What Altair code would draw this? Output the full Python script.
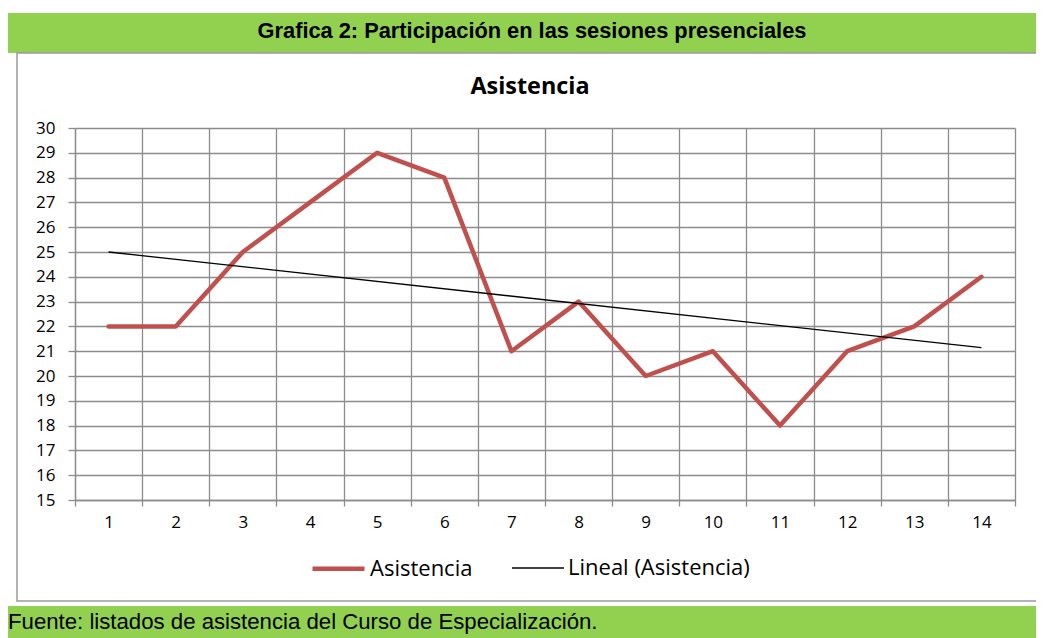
import altair as alt
import pandas as pd

# ---- data ----
sesiones = list(range(1, 15))
asistencia = [22, 22, 25, 27, 29, 28, 21, 23, 20, 21, 18, 21, 22, 24]
serie_nombres = ["Asistencia", "Lineal (Asistencia)"]
serie_colores = ["#C0504D", "#000000"]
serie_grosor = [4.5, 1.3]
y_ticks = list(range(15, 31))

titulo_cabecera = "Grafica 2: Participación en las sesiones presenciales"
titulo_grafico = "Asistencia"
fuente = "Fuente: listados de asistencia del Curso de Especialización."

df = pd.DataFrame({"sesion": sesiones, "asistencia": asistencia})

W, H = 940, 372
GRID = "#8C8C8C"
GREEN = "#92D050"
FONT = "Open Sans"
NARROW = "Liberation Sans, sans-serif"

x_enc = alt.X(
    "sesion:O",
    scale=alt.Scale(domain=sesiones, paddingInner=0, paddingOuter=0),
    axis=alt.Axis(
        title=None, tickBand="extent", labelAngle=0, grid=True,
        gridColor=GRID, gridWidth=1.3, domainColor=GRID, domainWidth=1.3,
        tickColor=GRID, tickWidth=1.3, tickSize=6, labelPadding=8,
        labelFont=FONT, labelFontSize=17, labelColor="#000000",
    ),
)
y_enc = alt.Y(
    "asistencia:Q",
    scale=alt.Scale(domain=[15, 30], nice=False, zero=False),
    axis=alt.Axis(
        title=None, values=y_ticks, grid=True,
        gridColor=GRID, gridWidth=1.3, domainColor=GRID, domainWidth=1.3,
        tickColor=GRID, tickWidth=1.3, tickSize=7, labelPadding=13,
        labelFont=FONT, labelFontSize=17, labelColor="#000000",
    ),
)
legend = alt.Legend(
    title=None, orient="none", direction="horizontal",
    legendX=235, legendY=412, symbolType="stroke", symbolSize=2704,
    labelFont=FONT, labelFontSize=22, labelColor="#000000", labelLimit=400,
    columnPadding=36, labelOffset=3,
)
color_enc = alt.Color(
    "serie:N", scale=alt.Scale(domain=serie_nombres, range=serie_colores), legend=legend
)
sw_enc = alt.StrokeWidth(
    "serie:N",
    scale=alt.Scale(type="ordinal", domain=serie_nombres, range=serie_grosor),
    legend=legend,
)

base = alt.Chart(df)
linea = (
    base.transform_calculate(serie="'Asistencia'")
    .mark_line(strokeCap="round", strokeJoin="round")
    .encode(x=x_enc, y=y_enc, color=color_enc, strokeWidth=sw_enc)
)
tendencia = (
    base.transform_regression("sesion", "asistencia")
    .transform_calculate(serie="'Lineal (Asistencia)'")
    .mark_line()
    .encode(x=x_enc, y=y_enc, color=color_enc, strokeWidth=sw_enc)
)

one = alt.Data(values=[{"k": 1}])
cabecera_rect = alt.Chart(one).mark_rect(color=GREEN).encode(
    x=alt.value(-68), x2=alt.value(969), y=alt.value(-115), y2=alt.value(-75)
)
caja = alt.Chart(one).mark_rect(fill="transparent", stroke="#9A9A9A", strokeWidth=1.5).encode(
    x=alt.value(-58), x2=alt.value(965), y=alt.value(-75), y2=alt.value(473)
)
pie_rect = alt.Chart(one).mark_rect(color=GREEN).encode(
    x=alt.value(-68), x2=alt.value(969), y=alt.value(478), y2=alt.value(520)
)
cabecera_txt = alt.Chart(alt.Data(values=[{"t": titulo_cabecera}])).mark_text(
    font=NARROW, fontSize=21.8, fontWeight="bold", align="center", baseline="middle", color="#000000"
).encode(text="t:N", x=alt.value(457), y=alt.value(-97))
titulo_txt = alt.Chart(alt.Data(values=[{"t": titulo_grafico}])).mark_text(
    font=FONT, fontSize=23.4, fontWeight="bold", align="center", baseline="middle", color="#000000"
).encode(text="t:N", x=alt.value(455), y=alt.value(-41))
pie_txt = alt.Chart(alt.Data(values=[{"t": fuente}])).mark_text(
    font=NARROW, fontSize=22.2, align="left", baseline="alphabetic", color="#000000"
).encode(text="t:N", x=alt.value(-67), y=alt.value(501))

chart = (
    alt.layer(cabecera_rect, caja, pie_rect, cabecera_txt, titulo_txt, pie_txt, linea, tendencia)
    .properties(
        width=W, height=H,
        autosize=alt.AutoSizeParams(type="none"),
        padding={"left": 67, "top": 120, "right": 21, "bottom": 138},
        background="white",
    )
    .configure_view(stroke="transparent")
)

chart.save("out.html", embed_options={"renderer": "svg", "actions": False})
